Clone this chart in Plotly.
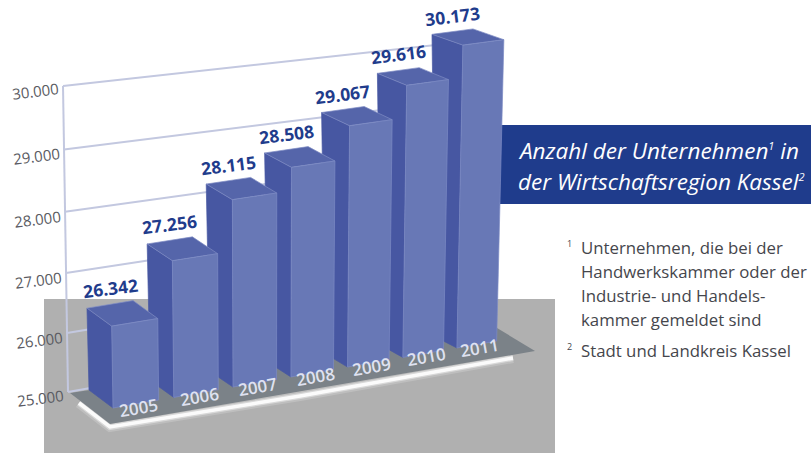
import plotly.graph_objects as go

years = ["2005", "2006", "2007", "2008", "2009", "2010", "2011"]
companies = [26342, 27256, 28115, 28508, 29067, 29616, 30173]
axis_ticks = [25000, 26000, 27000, 28000, 29000, 30000]
BASE = 25000
FONT = "Open Sans"
BLUE = "#1f3c8c"

SUP = '<sup><span style="font-size:11px">%s</span></sup>'
banner = ["<i>Anzahl der Unternehmen" + SUP % "1" + " in</i>",
          "<i>der Wirtschaftsregion Kassel" + SUP % "2" + "</i>"]
notes = ["Unternehmen, die bei der", "Handwerkskammer oder der",
         "Industrie- und Handels-", "kammer gemeldet sind", "Stadt und Landkreis Kassel"]


def dots(v):
    return f"{v:,}".replace(",", ".")


# pseudo-3D projection of (slot u along the time axis, depth d, value)
def project(u, d, value):
    w = 1 + 0.012 * u
    xb = (113 + 62.8 * u) / w
    yb = (408 - 5.83 * u) / w
    h = (value - BASE) * 0.0610 / (1 + 0.007 * u)
    i = int(u)
    x = xb + h * (xb - 267) * 1.04e-4
    y = yb - h
    x += d * (-(24 - 0.5 * i) - (0.0086 + 0.004 * i) * h)
    y += d * (-18 + 1.2 * i)
    return x, y


def wall(value, px):
    k = (value - BASE) / 1000
    x0, y0 = 68 - k, 392 - 59 * k - 0.55 * k * (k - 1)
    return x0, y0, x0 + px, y0 - px * (0.18 - 0.014 * k)


BAR = 0.75
fig = go.Figure()


def poly(pts, color, edge=None):
    xs = [p[0] for p in pts] + [pts[0][0]]
    ys = [p[1] for p in pts] + [pts[0][1]]
    fig.add_trace(go.Scatter(x=xs, y=ys, mode="lines", fill="toself", fillcolor=color,
                             line=dict(color=edge or color, width=0.7),
                             hoverinfo="skip", showlegend=False))


# wall
x_a, y_a, _, _ = wall(BASE, 0)
x_b, y_b, _, _ = wall(axis_ticks[-1], 0)
fig.add_trace(go.Scatter(x=[x_a, x_b], y=[y_a, y_b], mode="lines",
                         line=dict(color="#c3c8e0", width=2), hoverinfo="skip", showlegend=False))
for t in axis_ticks:
    x0, y0, x1, y1 = wall(t, 400)
    fig.add_trace(go.Scatter(x=[x0, x1], y=[y0, y1], mode="lines",
                             line=dict(color="#c3c8e0", width=2), hoverinfo="skip", showlegend=False))

# bars, farthest first
for i in range(len(years) - 1, -1, -1):
    v = companies[i]
    fl_b, fr_b = project(i, 0, BASE), project(i + BAR, 0, BASE)
    fl_t, fr_t = project(i, 0, v), project(i + BAR, 0, v)
    bl_b, bl_t = project(i, 1, BASE), project(i, 1, v)
    # the back-right corner uses the same slot's depth vector
    br_t = (fr_t[0] + bl_t[0] - fl_t[0], fr_t[1] + bl_t[1] - fl_t[1])
    poly([bl_b, fl_b, fl_t, bl_t], "#4757a2")
    poly([bl_t, fl_t, fr_t, br_t], "#5565aa", "#7f8cc4")
    poly([fl_b, fr_b, fr_t, fl_t], "#6878b6", "#7d8bc4")

annotations = []


def note(x, y, text, size, color, angle=0, anchor="center", bold=False, weight=None):
    font = dict(family=FONT, size=size, color=color)
    if weight:
        font["weight"] = weight
    annotations.append(dict(x=x, y=y, xref="x", yref="y", text=f"<b>{text}</b>" if bold else text,
                            showarrow=False, textangle=angle, xanchor=anchor, yanchor="middle",
                            font=font))


for t in axis_ticks:
    k = (t - BASE) / 1000
    note(40 - k, 398 - 58 * k - 0.85 * k * (k - 1), dots(t), 15, "#5a5b62", -7)

for i, (y_lab, v) in enumerate(zip(years, companies)):
    bl_t = project(i, 1, v)
    fl_t = project(i, 0, v)
    fr_t = project(i + BAR, 0, v)
    cx = bl_t[0] + (fr_t[0] - fl_t[0]) / 2
    cy = bl_t[1] + (fr_t[1] - fl_t[1]) / 2 - 16
    note(cx, cy, dots(v), 17.5, BLUE, -7, bold=True)
    fl_b, fr_b = project(i, 0, BASE), project(i + BAR, 0, BASE)
    note((fl_b[0] + fr_b[0]) / 2 + 3, (fl_b[1] + fr_b[1]) / 2 + 3, y_lab, 17, "#dfe2f1", -10, weight=600)

note(516, 150, banner[0], 22.5, "white", anchor="left")
note(516, 181, banner[1], 22.5, "white", anchor="left")

for yy, text in zip([247, 271, 295, 319, 350], notes):
    note(579, yy, text, 16.8, "#45464c", anchor="left")
note(565, 243, "1", 9, "#45464c", anchor="left")
note(565, 346, "2", 9, "#45464c", anchor="left")

glow = dict(type="path", path="M 79 403 L 110 427 L 300 396 L 513 358", layer="below")
shapes = [
    dict(type="rect", x0=500, x1=811, y0=125, y1=204, fillcolor=BLUE, line_width=0, layer="below"),
    dict(type="rect", x0=44, x1=555, y0=299, y1=453, fillcolor="#b0b0b0", line_width=0, layer="below"),
    {**glow, "line": dict(color="rgba(255,255,255,0.18)", width=10)},
    {**glow, "line": dict(color="rgba(255,255,255,0.4)", width=6)},
    {**glow, "line": dict(color="rgba(255,255,255,0.9)", width=3.5)},
    dict(type="path", path="M 70 393 L 110 424 L 535 351 L 497 328 Z", fillcolor="#7b8288",
         line_width=0, layer="below"),
]

fig.update_layout(
    width=811, height=453, margin=dict(l=0, r=0, t=0, b=0),
    paper_bgcolor="white", plot_bgcolor="white", showlegend=False,
    xaxis=dict(range=[0, 811], visible=False, fixedrange=True),
    yaxis=dict(range=[453, 0], visible=False, fixedrange=True),
    shapes=shapes, annotations=annotations,
)
fig.write_html("out.html", post_script="document.body.style.margin='0';document.body.style.overflow='hidden';",
               config={"displayModeBar": False})
